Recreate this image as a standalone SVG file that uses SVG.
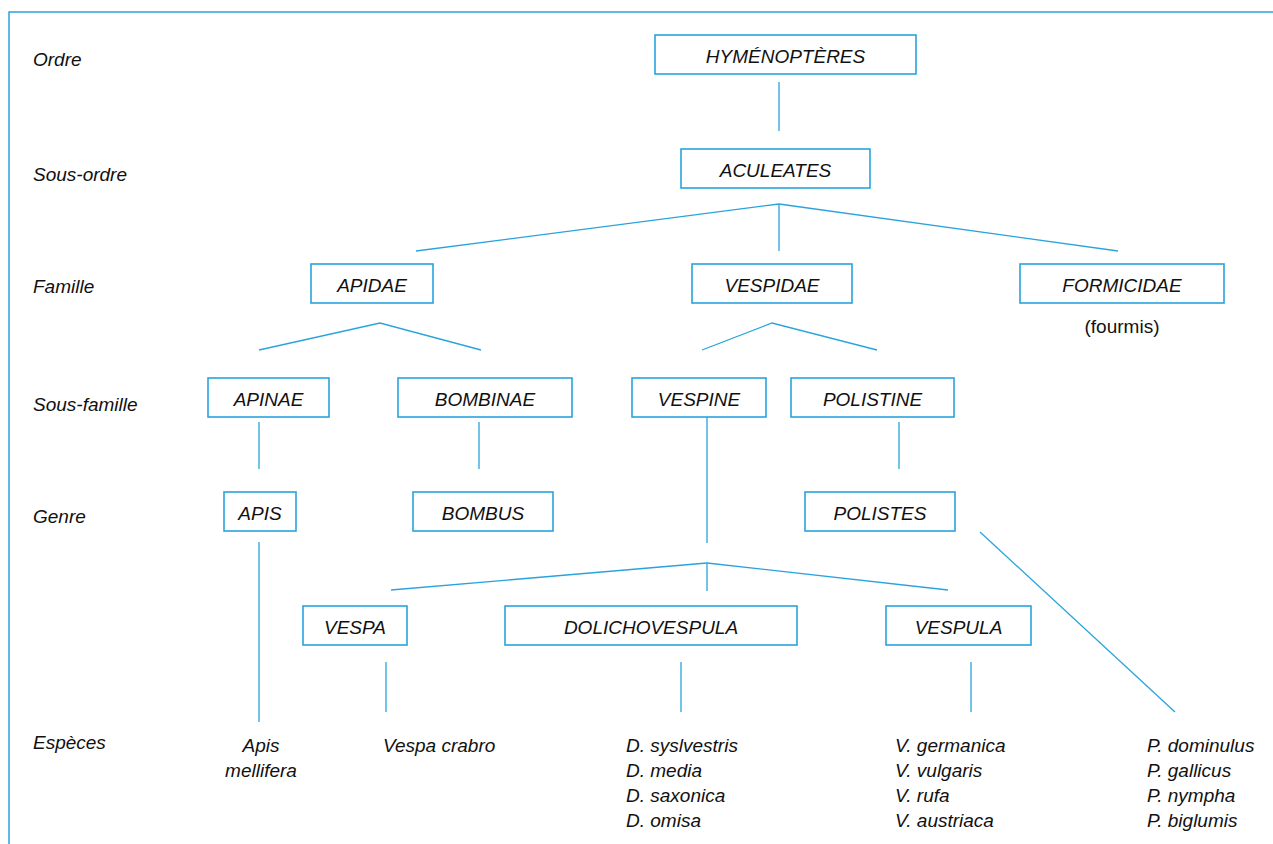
<svg xmlns="http://www.w3.org/2000/svg" width="1273" height="844" viewBox="0 0 1273 844">
<style>
.frame{fill:none;stroke:#29a3dd;stroke-width:1.5}
.box rect{fill:#fff;stroke:#29a3dd;stroke-width:1.6}
.box text,.lbl,.sp{font-family:"Liberation Sans",Arial,sans-serif;font-style:italic;font-size:19px;fill:#111}
.box text{text-anchor:middle}
.plain{font-family:"Liberation Sans",Arial,sans-serif;font-size:19px;fill:#111;text-anchor:middle}
#connectors line,#connectors polyline{stroke:#29a3dd;stroke-width:1.3;fill:none}
</style>
<rect width="1273" height="844" fill="#fff"/>
<polyline class="frame" points="9,844 9,12 1273,12"/>
<g id="rank-labels">
<text class="lbl" x="33" y="66">Ordre</text>
<text class="lbl" x="33" y="181">Sous-ordre</text>
<text class="lbl" x="33" y="293">Famille</text>
<text class="lbl" x="33" y="411">Sous-famille</text>
<text class="lbl" x="33" y="523">Genre</text>
<text class="lbl" x="33" y="749">Espèces</text>
</g>
<g id="connectors">
<line x1="779" y1="82" x2="779" y2="131"/>
<line x1="779" y1="204" x2="416" y2="251"/>
<line x1="779" y1="204" x2="779" y2="251"/>
<line x1="779" y1="204" x2="1118" y2="251"/>
<polyline points="259,350 380,323 481,350"/>
<polyline points="702,350 772,323 877,350"/>
<line x1="259" y1="422" x2="259" y2="469"/>
<line x1="479" y1="422" x2="479" y2="469"/>
<line x1="899" y1="422" x2="899" y2="469"/>
<line x1="707" y1="417" x2="707" y2="543"/>
<line x1="707" y1="563" x2="707" y2="591"/>
<line x1="707" y1="563" x2="391" y2="590"/>
<line x1="707" y1="563" x2="948" y2="590"/>
<line x1="259" y1="542" x2="259" y2="722"/>
<line x1="980" y1="532" x2="1175" y2="712"/>
<line x1="386" y1="662" x2="386" y2="712"/>
<line x1="681" y1="662" x2="681" y2="712"/>
<line x1="971" y1="662" x2="971" y2="712"/>
</g>
<g id="n-hymenopteres" class="box"><rect x="655" y="35" width="261" height="39"/><text x="785.5" y="63">HYMÉNOPTÈRES</text></g>
<g id="n-aculeates" class="box"><rect x="681" y="149" width="189" height="39"/><text x="775.5" y="177">ACULEATES</text></g>
<g id="n-apidae" class="box"><rect x="311" y="264" width="122" height="39"/><text x="372" y="292">APIDAE</text></g>
<g id="n-vespidae" class="box"><rect x="692" y="264" width="160" height="39"/><text x="772" y="292">VESPIDAE</text></g>
<g id="n-formicidae" class="box"><rect x="1020" y="264" width="204" height="39"/><text x="1122" y="292">FORMICIDAE</text></g>
<text class="plain" x="1122" y="333">(fourmis)</text>
<g id="n-apinae" class="box"><rect x="208" y="378" width="121" height="39"/><text x="268.5" y="406">APINAE</text></g>
<g id="n-bombinae" class="box"><rect x="398" y="378" width="174" height="39"/><text x="485" y="406">BOMBINAE</text></g>
<g id="n-vespine" class="box"><rect x="632" y="378" width="134" height="39"/><text x="699" y="406">VESPINE</text></g>
<g id="n-polistine" class="box"><rect x="791" y="378" width="163" height="39"/><text x="872.5" y="406">POLISTINE</text></g>
<g id="n-apis" class="box"><rect x="224" y="492" width="72" height="39"/><text x="260" y="520">APIS</text></g>
<g id="n-bombus" class="box"><rect x="413" y="492" width="140" height="39"/><text x="483" y="520">BOMBUS</text></g>
<g id="n-polistes" class="box"><rect x="805" y="492" width="150" height="39"/><text x="880" y="520">POLISTES</text></g>
<g id="n-vespa" class="box"><rect x="303" y="606" width="104" height="39"/><text x="355" y="634">VESPA</text></g>
<g id="n-dolichovespula" class="box"><rect x="505" y="606" width="292" height="39"/><text x="651" y="634">DOLICHOVESPULA</text></g>
<g id="n-vespula" class="box"><rect x="886" y="606" width="145" height="39"/><text x="958.5" y="634">VESPULA</text></g>
<g id="species">
<text class="sp" x="261" y="752" text-anchor="middle">Apis</text>
<text class="sp" x="261" y="777" text-anchor="middle">mellifera</text>
<text class="sp" x="383" y="752">Vespa crabro</text>
<text class="sp" x="626" y="752">D. syslvestris</text>
<text class="sp" x="626" y="777">D. media</text>
<text class="sp" x="626" y="802">D. saxonica</text>
<text class="sp" x="626" y="827">D. omisa</text>
<text class="sp" x="895" y="752">V. germanica</text>
<text class="sp" x="895" y="777">V. vulgaris</text>
<text class="sp" x="895" y="802">V. rufa</text>
<text class="sp" x="895" y="827">V. austriaca</text>
<text class="sp" x="1147" y="752">P. dominulus</text>
<text class="sp" x="1147" y="777">P. gallicus</text>
<text class="sp" x="1147" y="802">P. nympha</text>
<text class="sp" x="1147" y="827">P. biglumis</text>
</g>
</svg>
